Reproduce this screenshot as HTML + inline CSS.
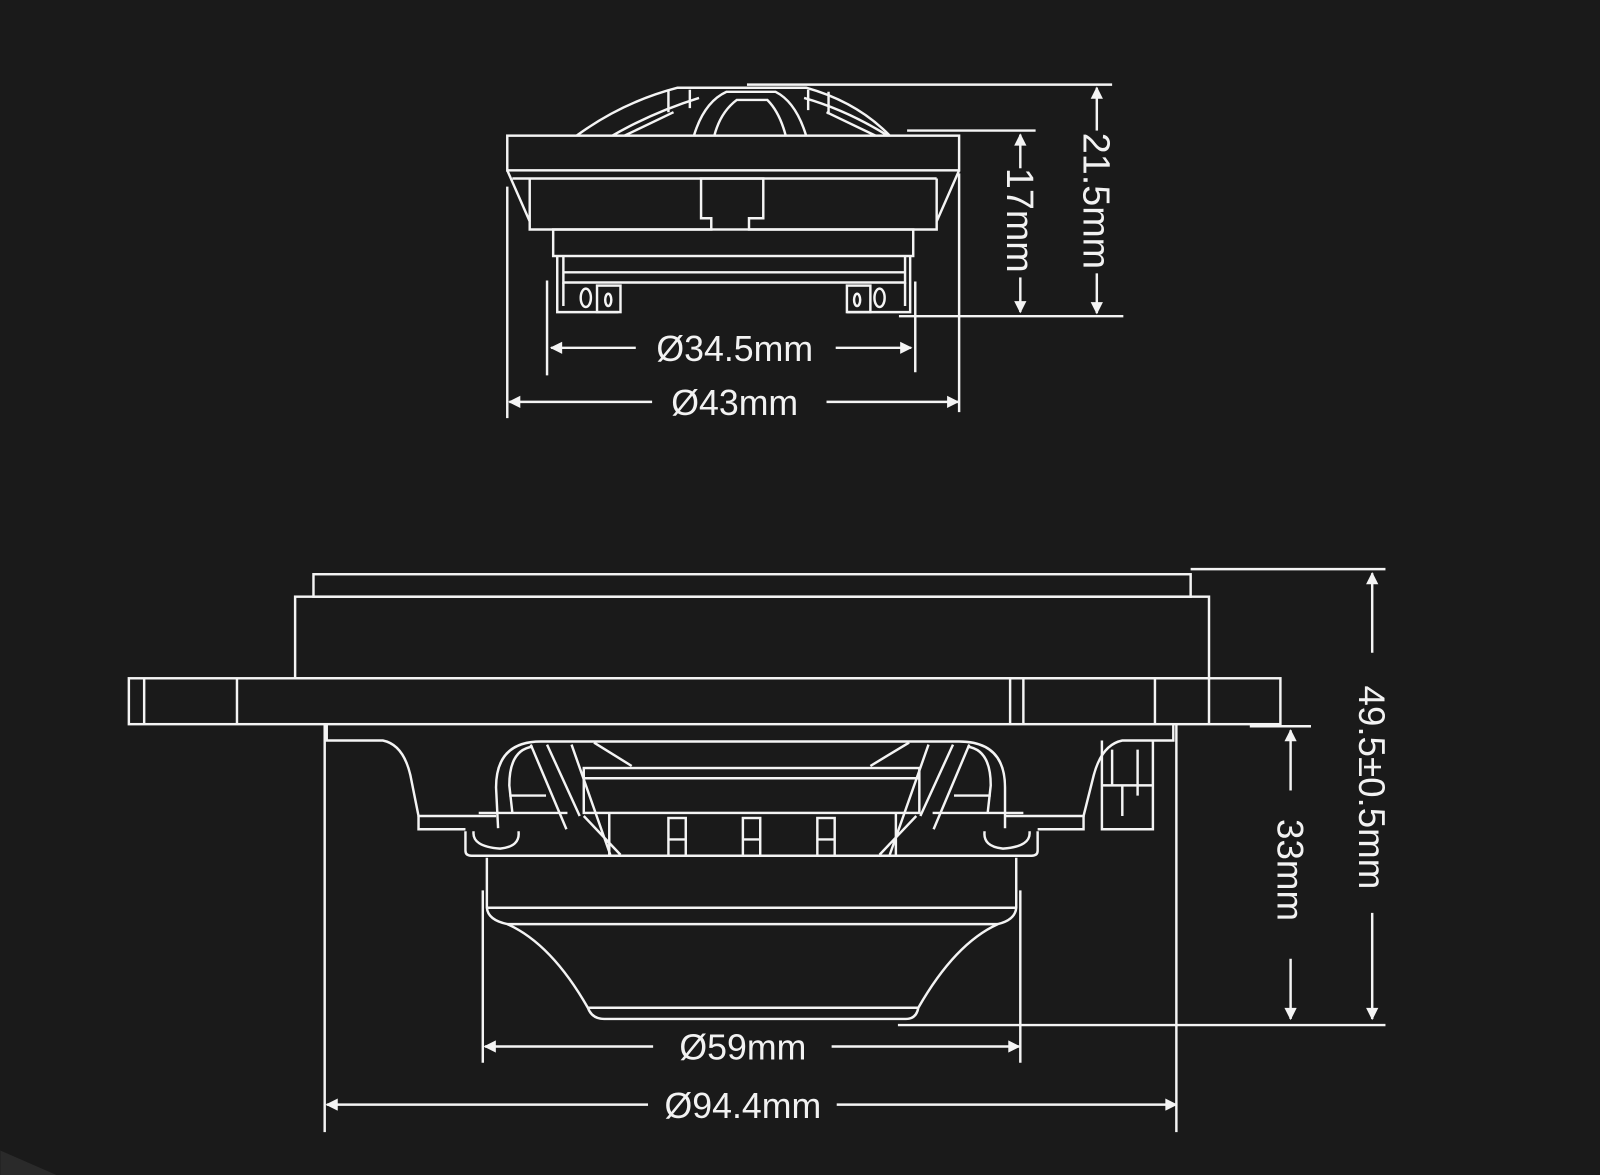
<!DOCTYPE html>
<html><head><meta charset="utf-8"><style>
html,body{margin:0;padding:0;background:#1a1a1a;}
svg{display:block;}
text{font-family:"Liberation Sans",sans-serif;fill:#f2f2f2;font-size:35px;}
</style></head><body>
<svg width="1600" height="1175" viewBox="0 0 1568 1152" xmlns="http://www.w3.org/2000/svg">
<defs>
<marker id="a" viewBox="0 0 10 10" refX="9" refY="5" markerWidth="13" markerHeight="12" markerUnits="userSpaceOnUse" orient="auto"><path d="M0,0 L10,5 L0,10 z" fill="#f4f4f4"/></marker>
</defs>
<rect width="1568" height="1152" fill="#1a1a1a"/>
<path d="M0 1128 L55 1152 L0 1152z" fill="#2a2a2a"/>
<g fill="none" stroke="#f4f4f4" stroke-width="2.4">
<!-- TWEETER -->
<path d="M565 133 Q610 100 664 86 L790 86 Q840 100 872 133"/>
<path d="M680 133 Q690 100 712 90 L760 90 Q780 100 790 133"/>
<path d="M700 133 Q706 110 722 98 L752 98 Q764 110 770 133"/>
<path d="M600 133 Q640 110 685 96 M612 133 L660 110 M870 133 Q830 108 788 96 M858 133 L810 110"/>
<path d="M655 88 L655 110 M676 88 L676 106 M792 88 L792 108 M812 90 L812 112"/>
<rect x="497" y="133" width="443" height="34"/>
<path d="M497 167 L519 217 L519 225 L697 225 L697 214 L687 214 L687 175 L748 175 L748 214 L734 214 L734 225 L918 225 L918 217 L940 167"/>
<path d="M502 175 L918 175 M519 175 L519 217 M918 175 L918 217"/>
<rect x="542" y="225" width="353" height="26"/>
<path d="M552 251 L552 277 L887 277 L887 251 M552 267 L887 267"/>
<path d="M546 251 L546 306 L606 306 M552 277 L552 300 M887 277 L887 300 M892 251 L892 306 L830 306"/>
<rect x="585" y="280" width="23" height="26"/>
<rect x="830" y="280" width="23" height="26"/>
<ellipse cx="574" cy="292" rx="5" ry="9"/>
<ellipse cx="596" cy="294" rx="3" ry="6"/>
<ellipse cx="840" cy="294" rx="3" ry="6"/>
<ellipse cx="862" cy="292" rx="5" ry="9"/>
<!-- tweeter dims -->
<path d="M732 83 L1090 83 M889 128 L1015 128 M881 310 L1101 310"/>
<path d="M497 183 L497 410 M940 170 L940 404 M536 275 L536 368 M897 276 L897 365"/>
<path d="M1075 128 L1075 86" marker-end="url(#a)"/>
<path d="M1075 268 L1075 307" marker-end="url(#a)"/>
<path d="M1000 165 L1000 132" marker-end="url(#a)"/>
<path d="M1000 272 L1000 306" marker-end="url(#a)"/>
<path d="M623 341 L540 341" marker-end="url(#a)"/>
<path d="M819 341 L893 341" marker-end="url(#a)"/>
<path d="M639 394 L499 394" marker-end="url(#a)"/>
<path d="M810 394 L939 394" marker-end="url(#a)"/>

<!-- WOOFER -->
<rect x="307" y="563" width="860" height="22"/>
<rect x="289" y="585" width="896" height="80"/>
<rect x="126" y="665" width="1129" height="45"/>
<path d="M141 665 L141 710 M232 665 L232 710 M990 665 L990 710 M1003 665 L1003 710 M1132 665 L1132 710 M1185 665 L1185 710"/>
<path d="M320 710 L320 726 L375 726 Q395 730 402 760 L410 800 L486 800 M985 800 L1062 800 L1072 760 Q1080 730 1100 726 L1150 726 L1150 710"/>
<path d="M410 800 L410 813 L456 813 M1017 813 L1062 813 L1062 800"/>
<path d="M1080 726 L1080 813 L1130 813 L1130 726 M1080 770 L1130 770 M1100 770 L1100 800 M1115 735 L1115 780 M1090 735 L1090 770"/>
<path d="M488 812 L486 772 Q486 727 530 727 L940 727 Q985 727 985 772 L985 812"/>
<path d="M502 797 L499 770 Q499 735 522 732 M469 797 L556 797"/>
<path d="M968 797 L971 770 Q971 735 948 732 M914 797 L1003 797"/>
<path d="M499 780 L535 780 M971 780 L935 780"/>
<path d="M520 730 L555 813 M536 730 L568 800 M560 730 L598 838 M572 800 L608 838"/>
<path d="M950 730 L915 813 M934 730 L902 800 M910 730 L872 838 M898 800 L862 838"/>
<rect x="572" y="753" width="329" height="44"/>
<path d="M572 763 L901 763 M582 728 L619 751 M891 728 L853 751"/>
<path d="M597 797 L597 839 M878 797 L878 839"/>
<rect x="655" y="802" width="17" height="37"/>
<rect x="728" y="802" width="17" height="37"/>
<rect x="801" y="802" width="17" height="37"/>
<path d="M655 823 L672 823 M728 823 L745 823 M801 823 L818 823"/>
<path d="M456 815 L456 834 Q456 839 462 839 L1011 839 Q1017 839 1017 834 L1017 815"/>
<path d="M464 815 Q462 830 490 832 Q510 830 508 815 M1009 815 Q1011 830 983 832 Q963 830 965 815"/>
<path d="M477 841 L477 890 Q478 902 497 906 Q540 925 576 988 Q580 999 592 999 L888 999 Q898 999 900 988 Q936 925 978 906 Q995 902 996 890 L996 841"/>
<path d="M477 890 L996 890 M497 906 L978 906 M576 988 L900 988"/>
<path d="M1167 558 L1358 558 M1225 712 L1285 712 M880 1005 L1358 1005"/>
<path d="M318 710 L318 1110 M1153 710 L1153 1110 M473 873 L473 1042 M1000 873 L1000 1042"/>
<path d="M1345 640 L1345 562" marker-end="url(#a)"/>
<path d="M1345 895 L1345 999" marker-end="url(#a)"/>
<path d="M1265 775 L1265 716" marker-end="url(#a)"/>
<path d="M1265 940 L1265 999" marker-end="url(#a)"/>
<path d="M640 1026 L475 1026" marker-end="url(#a)"/>
<path d="M815 1026 L999 1026" marker-end="url(#a)"/>
<path d="M635 1083 L320 1083" marker-end="url(#a)"/>
<path d="M820 1083 L1153 1083" marker-end="url(#a)"/>
</g>
<g>
<text x="720" y="354" text-anchor="middle">Ø34.5mm</text>
<text x="720" y="407" text-anchor="middle">Ø43mm</text>
<text x="728" y="1039" text-anchor="middle">Ø59mm</text>
<text x="728" y="1096" text-anchor="middle">Ø94.4mm</text>
<text transform="translate(1062,197) rotate(90)" text-anchor="middle" style="font-size:37px">21.5mm</text>
<text transform="translate(987,216) rotate(90)" text-anchor="middle" style="font-size:37px">17mm</text>
<text transform="translate(1332,772) rotate(90)" text-anchor="middle" style="font-size:36px">49.5±0.5mm</text>
<text transform="translate(1252,853) rotate(90)" text-anchor="middle" style="font-size:36px">33mm</text>
</g>
</svg>
</body></html>
